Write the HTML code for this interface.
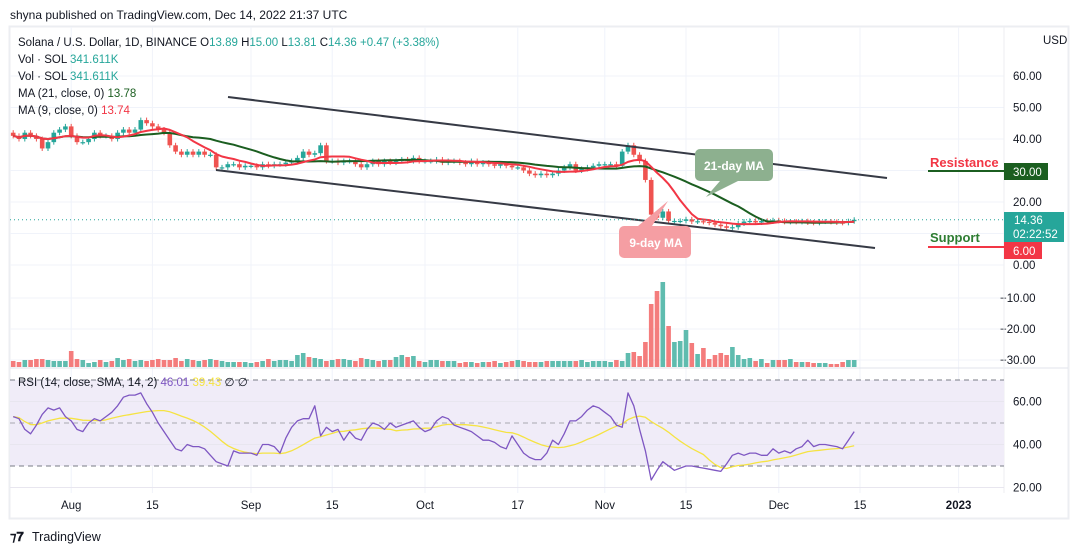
<!DOCTYPE html>
<html><head><meta charset="utf-8"><style>
body{margin:0;background:#fff;font-family:"Liberation Sans",sans-serif;}
#wrap{position:relative;width:1078px;height:554px;overflow:hidden;}
svg text{font-family:"Liberation Sans",sans-serif;}
</style></head><body>
<div id="wrap">
<svg id="c" width="1078" height="554"></svg>
</div>
<script>
const dateLabels=["Aug","15","Sep","15","Oct","17","Nov","15","Dec","15","2023"];
const dateDays=[-31,-17,0,14,30,46,61,75,91,105,122];
const priceTicks=[0,10,20,30,40,50,60];
const volTicks=[10,20,30];
const rsiTicks=[20,40,60];
const closes=[41,40,42,41,40,37,39,42,43,44,
41,39,39,40,42,41,41,40,42,43,42,43,46,45,44,
43,42,38,36,35,36,35,36,35,35,31,31,32,32,31,31.5,
31.5,31,32,31.5,32,32,32.5,33,34,36,35,35.5,38,33,33,
32.5,33,33,32,31,32,33,32,33,32.5,33,33.5,33,34,33,
33,33,33.5,32.5,33,33,32.5,32,33,32,32.5,32,31.5,32,31.5,31,
31,30,29,28.5,29,28.5,29,30,31,32,30,30.5,31,31.5,32,
32,32,31.5,36,38,35,33,27,16,15,17,14,14,14,14.5,
13.8,13.9,13.7,13.4,12.8,12.3,11.8,12,13.2,13.8,14,13.5,14,13.8,14.2,
14,13.7,13.8,13.7,13.9,13.5,13.4,13.8,13.8,13.7,13.5,13.4,13.9,14.36];
const volumes=[6,5,7,7,8,8,7,6,6,6,
16,8,7,4,5,7,5,6,9,7,8,6,7,6,7,
8,7,7,9,6,8,7,6,7,8,7,6,5,5,5,5,
4,5,6,8,6,7,7,6,12,14,10,9,8,6,7,
8,8,7,6,9,8,7,6,7,7,10,12,10,11,6,
5,7,7,6,6,6,4,5,5,4,5,5,6,4,5,6,
7,6,5,5,5,6,6,6,6,6,6,7,5,6,6,
6,5,7,6,14,15,11,25,63,76,85,41,25,26,37,
24,13,19,8,12,14,12,20,12,8,9,6,8,4,7,
7,7,8,5,5,5,4,4,4,3,3,5,7,7];
const rsiValues=[53,52,47,45,49,54,57,56,57,53,
51,47,46,50,52,51,53,55,58,62,63,63,64,59,55,
50,46,42,38,37,40,39,39,38,35,32,31,30,37,36,36,
36,35,40,40,39,36,43,48,51,52,52,58,44,48,46,
47,42,46,43,42,47,50,49,47,50,48,49,50,51,48,
46,47,51,53,52,49,48,47,46,44,42,42,41,39,38,44,
40,36,34,33,33,36,42,40,45,51,51,53,56,58,57,
55,53,49,48,64,58,47,37,23.5,28,32,30,28,29,30,
30,29.5,29,28.5,28,27.5,31,35,36,35,36,36,35,35,38,
36,37,36,38,39,42,39,40,40,39.5,39,38,42,46];
const startDay=-41, openFirst=42;
const X0=251, DX=5.8;
function xOf(i){return X0+(i+startDay)*DX;}
function xDay(d){return X0+d*DX;}
function yP(p){return 265-p*3.15;}
function yV(v){return 367-v;}
function yR(r){return 466-(r-30)*2.15;}
const S=document.getElementById('c'),NS='http://www.w3.org/2000/svg';
function el(t,a,txt){const e=document.createElementNS(NS,t);for(const k in a)e.setAttribute(k,a[k]);if(txt!==undefined)e.textContent=txt;S.appendChild(e);return e;}
let e=el('rect',{x:9.5,y:26.5,width:1059,height:492,fill:'#fff',stroke:'#eceef2','stroke-width':2});

e=el('text',{x:10,y:19,'font-size':12,fill:'#131722'},'shyna published on TradingView.com, Dec 14, 2022 21:37 UTC');

dateDays.forEach((d,i)=>{const x=xDay(d);
 e=el('line',{x1:x,x2:x,y1:27,y2:493,stroke:'#f0f3fa'});
 e=el('text',{x:x,y:509,'font-size':11.5,fill:'#131722','text-anchor':'middle','font-weight':dateLabels[i]==='2023'?'bold':'normal'},dateLabels[i]);
 });
priceTicks.forEach(p=>{const y=yP(p);
 e=el('line',{x1:10,x2:1004,y1:y,y2:y,stroke:'#f0f3fa'});
 e=el('text',{x:1013,y:y+4,'font-size':11.5,fill:'#131722'},p.toFixed(2));});
e=el('text',{x:1043,y:44,'font-size':11.5,fill:'#131722'},'USD');
volTicks.forEach(v=>{const y=267+v*3.1;
 e=el('line',{x1:10,x2:1004,y1:y,y2:y,stroke:'#f0f3fa'});
 e=el('text',{x:1000,y:y+4,'font-size':11.5,fill:'#131722'},'−'+v.toFixed(2));});
e=el('line',{x1:10,x2:1068,y1:368,y2:368,stroke:'#e0e3eb'});
e=el('line',{x1:1004,x2:1004,y1:27,y2:493,stroke:'#eceef2'});
e=el('rect',{x:10,y:yR(70),width:994,height:yR(30)-yR(70),fill:'#f0ecf8'});
rsiTicks.forEach(r=>{const y=yR(r);
 e=el('line',{x1:10,x2:1004,y1:y,y2:y,stroke:'#e8e6ef'});
 e=el('text',{x:1013,y:y+4,'font-size':11.5,fill:'#131722'},r.toFixed(2));});
[70,50,30].forEach(r=>{e=el('line',{x1:10,x2:1004,y1:yR(r),y2:yR(r),stroke:r===50?'#a9a7b0':'#787b86','stroke-dasharray':'5,4'});});
volumes.forEach((v,i)=>{const o=i?closes[i-1]:openFirst;const up=closes[i]>=o;
 e=el('rect',{x:xOf(i)-2.3,y:yV(v),width:4.6,height:v,fill:up?'#5fbcaf':'#f47c7c'});
 });
closes.forEach((c,i)=>{const o=i?closes[i-1]:openFirst;const up=c>=o;const col=up?'#26a69a':'#ef5350';const x=xOf(i);
 const hi=Math.max(o,c)+0.8,lo=Math.min(o,c)-0.8;
 e=el('line',{x1:x,x2:x,y1:yP(hi),y2:yP(lo),stroke:col});
 const y1=yP(Math.max(o,c)),h=Math.max(1.2,yP(Math.min(o,c))-y1);
 e=el('rect',{x:x-2.3,y:y1,width:4.6,height:h,fill:col});});
function sma(arr,n){return arr.map((v,i)=>{const s=arr.slice(Math.max(0,i-n+1),i+1);return s.reduce((a,b)=>a+b,0)/s.length;});}
function poly(vals,fx,fy,col,w,name){let d='';vals.forEach((v,i)=>{d+=(d?'L':'M')+fx(i).toFixed(1)+','+fy(v).toFixed(1);});
 const p=el('path',{d:d,fill:'none',stroke:col,'stroke-width':w,'stroke-linejoin':'round'});}
poly(sma(closes,21),xOf,yP,'#1b5e20',2,'ma21-line');
poly(sma(closes,9),xOf,yP,'#f23645',2,'ma9-line');
poly(sma(rsiValues,14),xOf,yR,'#f5e342',1.3,'rsi-sma-line');
poly(rsiValues,xOf,yR,'#7e57c2',1.3,'rsi-line');
e=el('line',{x1:228,y1:97,x2:887,y2:178,stroke:'#363a45','stroke-width':2});
e=el('line',{x1:216,y1:170,x2:875,y2:248,stroke:'#363a45','stroke-width':2});
e=el('line',{x1:10,x2:1004,y1:yP(14.36),y2:yP(14.36),stroke:'#26a69a','stroke-dasharray':'1,3'});
e=el('path',{d:'M700,149 h68 a5,5 0 0 1 5,5 v22 a5,5 0 0 1 -5,5 h-30 l-32,16 l14,-16 h-20 a5,5 0 0 1 -5,-5 v-22 a5,5 0 0 1 5,-5z',fill:'#8db08f'});
e=el('text',{x:734,y:170,'font-size':12,'font-weight':'bold',fill:'#fff','text-anchor':'middle'},'21-day MA');
e=el('path',{d:'M624,226 h14 l30,-25 l-16,25 h34 a5,5 0 0 1 5,5 v22 a5,5 0 0 1 -5,5 h-62 a5,5 0 0 1 -5,-5 v-22 a5,5 0 0 1 5,-5z',fill:'#f59ea3'});
e=el('text',{x:656,y:247,'font-size':12,'font-weight':'bold',fill:'#fff','text-anchor':'middle'},'9-day MA');
e=el('text',{x:930,y:167,'font-size':13,'font-weight':'bold',fill:'#f23645'},'Resistance');
e=el('line',{x1:928,x2:1004,y1:171,y2:171,stroke:'#1b5e20','stroke-width':2});
e=el('rect',{x:1004,y:163,width:44,height:17,fill:'#1b5e20'});
e=el('text',{x:1013,y:176,'font-size':11.5,fill:'#fff'},'30.00');
e=el('text',{x:930,y:242,'font-size':13,'font-weight':'bold',fill:'#2e7d32'},'Support');
e=el('line',{x1:928,x2:1004,y1:247,y2:247,stroke:'#f23645','stroke-width':2});
e=el('rect',{x:1004,y:212,width:60,height:30,fill:'#26a69a'});
e=el('text',{x:1014,y:224,'font-size':11.5,fill:'#fff'},'14.36');
e=el('text',{x:1013,y:238,'font-size':11.5,fill:'#fff'},'02:22:52');
e=el('rect',{x:1004,y:242,width:38,height:17,fill:'#f23645'});
e=el('text',{x:1013,y:255,'font-size':11.5,fill:'#fff'},'6.00');
function legend(y,parts,name){const t=el('text',{x:18,y:y,'font-size':11.5});
 parts.forEach(p=>{const s=document.createElementNS(NS,'tspan');s.setAttribute('fill',p[1]);s.textContent=p[0];t.appendChild(s);});}
const G='#26a69a';
legend(46,[['Solana / U.S. Dollar, 1D, BINANCE  O','#131722'],['13.89','#26a69a'],['  H','#131722'],['15.00',G],['  L','#131722'],['13.81',G],['  C','#131722'],['14.36',G],['  +0.47 (+3.38%)',G]],'symbol-legend');
legend(63,[['Vol · SOL  ','#131722'],['341.611K',G]],'volume-legend-1');
legend(80,[['Vol · SOL  ','#131722'],['341.611K',G]],'volume-legend-2');
legend(97,[['MA (21, close, 0)  ','#131722'],['13.78','#1b5e20']],'ma21-legend');
legend(114,[['MA (9, close, 0)  ','#131722'],['13.74','#f23645']],'ma9-legend');
legend(386,[['RSI (14, close, SMA, 14, 2)  ','#131722'],['46.01','#7e57c2'],['  39.43','#f5e342'],['  ∅  ∅','#131722']],'rsi-legend');
e=el('text',{x:10,y:541,'font-size':13,'font-weight':'bold',fill:'#131722'},'⁊𝟕');
e=el('text',{x:32,y:541,'font-size':12.5,fill:'#131722'},'TradingView');
</script>
</body></html>
